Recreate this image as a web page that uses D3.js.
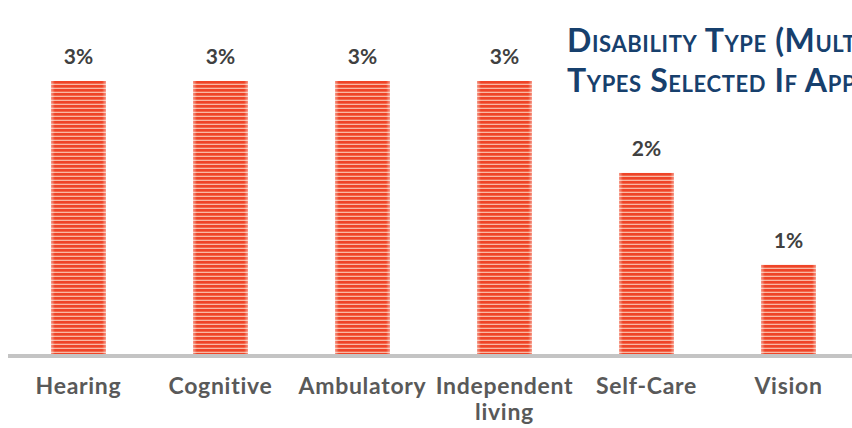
<!DOCTYPE html>
<html><head><meta charset="utf-8">
<script src="https://cdn.jsdelivr.net/npm/d3@7"></script>
<style>html,body{margin:0;padding:0;background:#fff;overflow:hidden}svg{display:block}</style>
</head><body>
<svg id="chart" width="852" height="428"></svg>
<script>
const categories = ["Hearing", "Cognitive", "Ambulatory", "Independent living", "Self-Care", "Vision"];
const categoryLines = [["Hearing"], ["Cognitive"], ["Ambulatory"], ["Independent", "living"], ["Self-Care"], ["Vision"]];
const values = [3.0, 3.0, 3.0, 3.0, 1.99, 0.98];
const valueLabels = ["3%", "3%", "3%", "3%", "2%", "1%"];
const titleLines = [["Disability Type (Multiple"], ["Types Selected If Applicable)"]];

const svg = d3.select("#chart");
const W = 852, H = 428;
const baseY = 354;

const x = d3.scaleBand().domain(categories).range([7.5, 859.5]).paddingInner(0.613).paddingOuter(0.3065);
const y = d3.scaleLinear().domain([0, 3]).range([baseY, 81]);

const defs = svg.append("defs");
const pat = defs.append("pattern").attr("id", "stripes").attr("patternUnits", "userSpaceOnUse")
  .attr("width", 8).attr("height", 4).attr("y", 1);
pat.append("rect").attr("width", 8).attr("height", 4).attr("fill", "#f9b8a4");
pat.append("rect").attr("width", 8).attr("height", 2.7).attr("fill", "#ef4427");

const edge = defs.append("linearGradient").attr("id", "edge").attr("x1", 0).attr("x2", 1).attr("y1", 0).attr("y2", 0);
[[0, 0.45], [0.07, 0], [0.93, 0], [1, 0.45]].forEach(([o, a]) =>
  edge.append("stop").attr("offset", o).attr("stop-color", "#fff").attr("stop-opacity", a));

const bars = svg.append("g");
bars.selectAll("rect.bar").data(values).join("rect").attr("class", "bar")
  .attr("x", (d, i) => x(categories[i])).attr("width", x.bandwidth())
  .attr("y", d => y(d)).attr("height", d => baseY - y(d))
  .attr("fill", "url(#stripes)");
bars.selectAll("rect.edge").data(values).join("rect").attr("class", "edge")
  .attr("x", (d, i) => x(categories[i])).attr("width", x.bandwidth())
  .attr("y", d => y(d)).attr("height", d => baseY - y(d))
  .attr("fill", "url(#edge)");

// axis baseline
svg.append("line").attr("x1", 8).attr("x2", W).attr("y1", baseY + 2).attr("y2", baseY + 2)
  .attr("stroke", "#c4c4c4").attr("stroke-width", 4);

const font = "'Lato', 'Open Sans', sans-serif";

svg.append("g").selectAll("text").data(values).join("text")
  .attr("x", (d, i) => x(categories[i]) + x.bandwidth() / 2)
  .attr("y", d => y(d) - 17)
  .attr("text-anchor", "middle").attr("font-family", font).attr("font-weight", 700)
  .attr("font-size", 21).attr("fill", "#404040")
  .text((d, i) => valueLabels[i]);

const cat = svg.append("g").selectAll("text").data(categories).join("text")
  .attr("x", d => x(d) + x.bandwidth() / 2)
  .attr("y", 394)
  .attr("text-anchor", "middle").attr("font-family", font).attr("font-weight", 700)
  .attr("font-size", 23).attr("letter-spacing", 0.7).attr("fill", "#595959");
cat.each(function(d, i) {
  const t = d3.select(this);
  categoryLines[i].forEach((ln, j) => t.append("tspan").attr("x", x(d) + x.bandwidth() / 2)
    .attr("dy", j === 0 ? 0 : 26).text(ln));
});

const title = svg.append("g").selectAll("text").data(titleLines).join("text")
  .attr("x", 567).attr("y", (d, i) => 52 + i * 40)
  .attr("font-family", font).attr("font-weight", 700).attr("font-size", 32).attr("letter-spacing", 0.6)
  .attr("fill", "#17406d").style("font-variant", "small-caps")
  .text(d => d[0]);
</script>
</body></html>
